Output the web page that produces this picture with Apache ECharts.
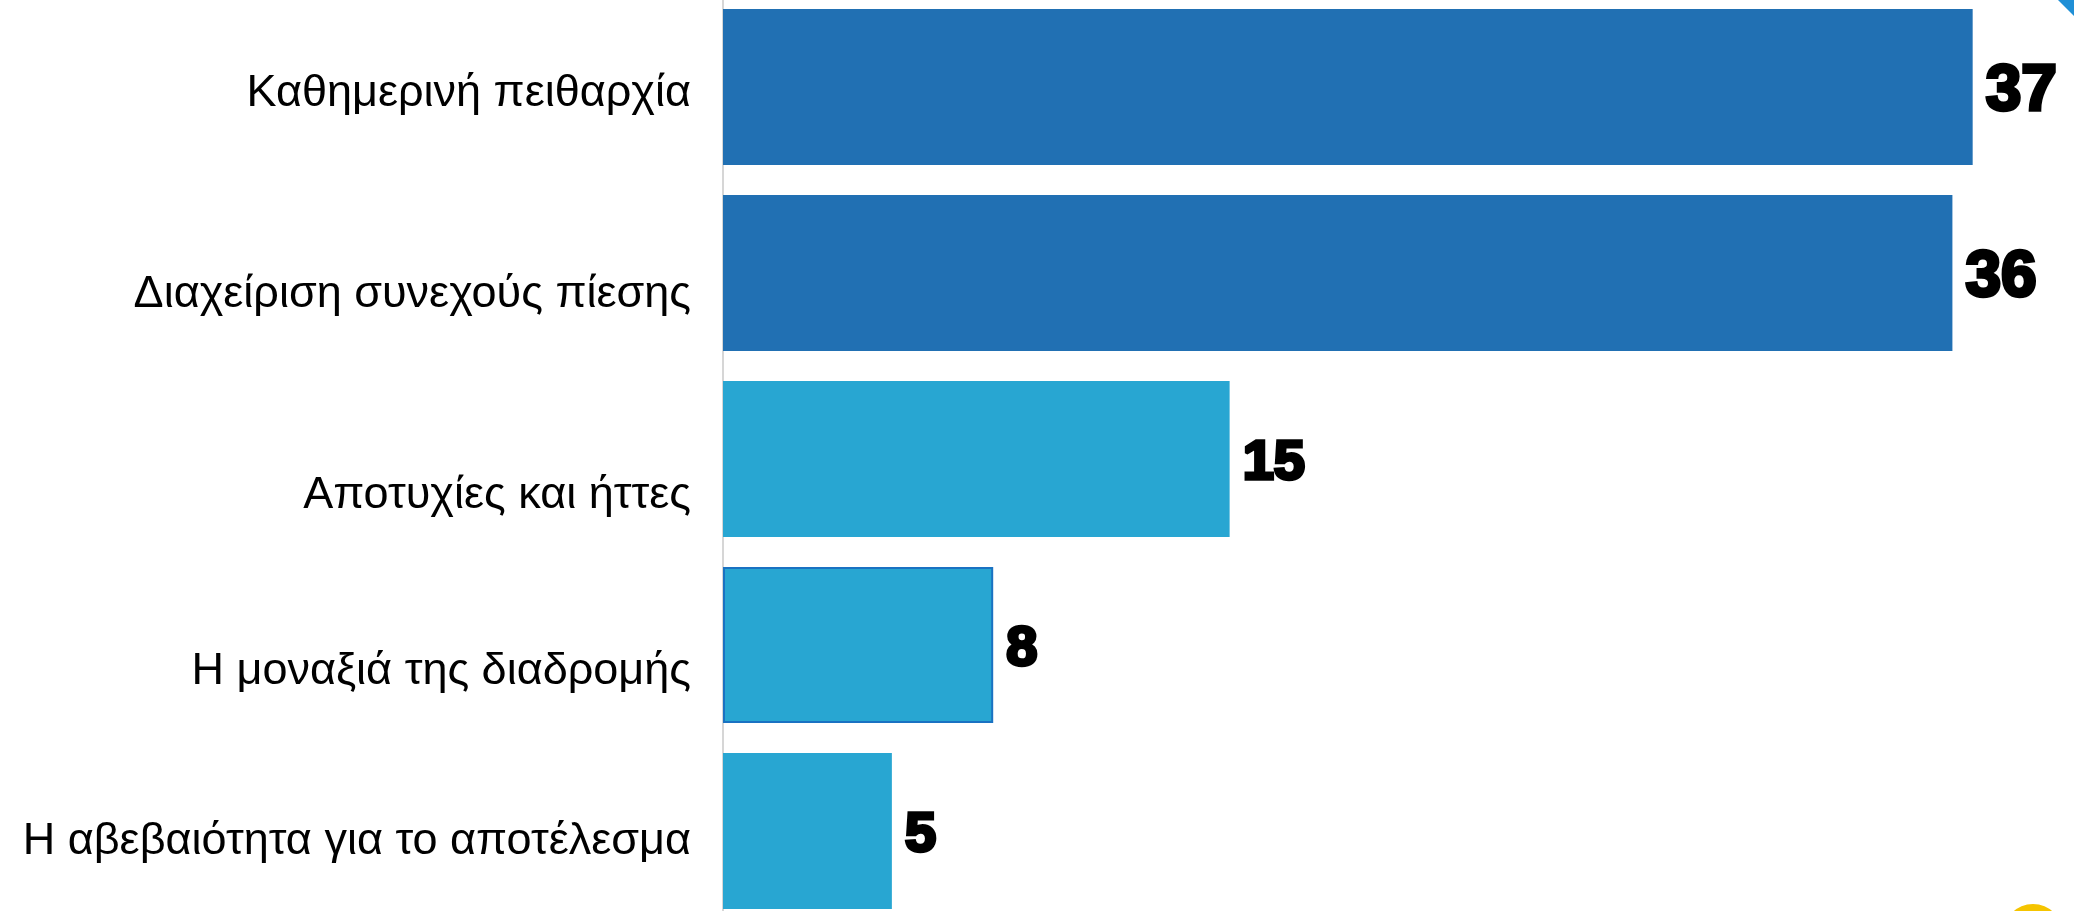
<!DOCTYPE html>
<html>
<head>
<meta charset="utf-8">
<script src="https://cdn.jsdelivr.net/npm/echarts@6/dist/echarts.min.js"></script>
<style>
html,body{margin:0;padding:0;background:#fff;overflow:hidden;width:2074px;height:911px;position:relative;}
#chart{position:absolute;left:0;top:-6px;width:2074px;height:930px;}
</style>
</head>
<body>
<div id="chart"></div>
<script>
const categories = [
  "Καθημερινή πειθαρχία",
  "Διαχείριση συνεχούς πίεσης",
  "Αποτυχίες και ήττες",
  "Η μοναξιά της διαδρομής",
  "Η αβεβαιότητα για το αποτέλεσμα"
];
const values = [37, 36.4, 15, 8, 5];
const barColors = ["#2170b3", "#2170b3", "#28a6d2", "#28a6d2", "#28a6d2"];
const labelSizes = [64, 64, 56, 56, 56];
const labelNudge = [7, 22, 37, 27, 11];

const chart = echarts.init(document.getElementById('chart'), null, {renderer: 'canvas'});

const data = values.map((v, i) => ({
  value: v,
  itemStyle: {
    color: barColors[i],
    borderColor: i === 3 ? '#1a72c2' : barColors[i],
    borderWidth: i === 3 ? 2 : 0
  },
  label: { fontSize: labelSizes[i] }
}));

const richStyles = {};
labelNudge.forEach((n, i) => {
  richStyles['n' + i] = {
    fontFamily: 'Liberation Sans, Arial, sans-serif',
    fontSize: 45,
    color: '#000000',
    padding: [2 * n, 0, 0, 0]
  };
});

chart.setOption({
  animation: false,
  backgroundColor: '#ffffff',
  grid: { left: 723, right: 0, top: 0, bottom: 0, containLabel: false },
  xAxis: {
    type: 'value', min: 0, max: 40,
    show: false,
    splitLine: { show: false }
  },
  yAxis: {
    type: 'category',
    data: categories,
    inverse: true,
    axisTick: { show: false },
    axisLine: { show: true, lineStyle: { color: '#d6d6d6', width: 2 } },
    axisLabel: {
      interval: 0,
      margin: 32,
      fontFamily: 'Liberation Sans, Arial, sans-serif',
      fontSize: 45,
      color: '#000000',
      formatter: (val, idx) => '{n' + idx + '|' + val + '}',
      rich: richStyles
    }
  },
  series: [{
    type: 'bar',
    data: data,
    barCategoryGap: '16%',
    label: {
      show: true,
      position: 'right',
      distance: 13,
      offset: [0, 5],
      fontFamily: 'Liberation Sans, Arial, sans-serif',
      fontWeight: 'bold',
      color: '#000000',
      textBorderColor: '#000000',
      textBorderWidth: 3.5,
      formatter: p => String(Math.round(p.value))
    }
  }],
  graphic: [
    { type: 'circle', shape: { cx: 2033, cy: 940, r: 30 }, style: { fill: '#f5c400' }, z: 10 },
    { type: 'polygon', shape: { points: [[2058, 6], [2074, 6], [2074, 22]] }, style: { fill: '#1f8fd6' }, z: 10 }
  ]
});
</script>
</body>
</html>
